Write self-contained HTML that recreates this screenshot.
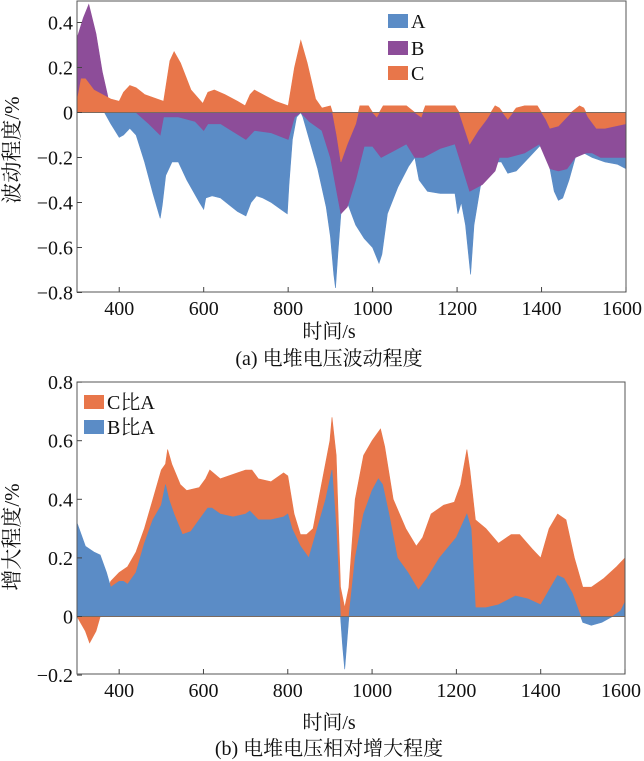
<!DOCTYPE html>
<html><head><meta charset="utf-8"><style>
body{margin:0;background:#fff;}
svg{display:block;font-family:"Liberation Serif","Noto Serif CJK SC",serif;}
</style></head><body>
<svg id="fig" width="644" height="761" viewBox="0 0 644 761"></svg>
<script>
const xTicks=[400,600,800,1000,1200,1400,1600];
const yTicksA=[0.4,0.2,0,-0.2,-0.4,-0.6,-0.8];
const yTickLabelsA=["0.4","0.2","0","\u22120.2","\u22120.4","\u22120.6","\u22120.8"];
const yTicksB=[0.8,0.6,0.4,0.2,0,-0.2];
const yTickLabelsB=["0.8","0.6","0.4","0.2","0","\u22120.2"];
const seriesA=[[300,0],[365,0],[380,-0.05],[400,-0.11],[410,-0.1],[425,-0.07],[440,-0.1],[460,-0.22],[480,-0.36],[497,-0.47],[502,-0.41],[510,-0.28],[525,-0.22],[540,-0.22],[560,-0.3],[590,-0.4],[600,-0.43],[605,-0.38],[620,-0.37],[640,-0.38],[660,-0.41],[680,-0.44],[700,-0.46],[712,-0.4],[725,-0.37],[740,-0.38],[760,-0.4],[790,-0.44],[798,-0.45],[802,-0.32],[810,-0.12],[820,-0.02],[830,0],[835,-0.02],[850,-0.12],[870,-0.25],[890,-0.42],[900,-0.55],[908,-0.72],[912,-0.78],[918,-0.62],[925,-0.45],[940,-0.4],[960,-0.5],[980,-0.56],[1000,-0.6],[1015,-0.67],[1022,-0.63],[1035,-0.45],[1060,-0.33],[1085,-0.24],[1100,-0.2],[1110,-0.3],[1130,-0.35],[1160,-0.36],[1195,-0.36],[1202,-0.45],[1210,-0.4],[1220,-0.5],[1232,-0.72],[1240,-0.5],[1255,-0.33],[1275,-0.25],[1290,-0.22],[1305,-0.22],[1320,-0.27],[1340,-0.26],[1370,-0.2],[1395,-0.15],[1405,-0.14],[1415,-0.2],[1430,-0.35],[1440,-0.39],[1450,-0.38],[1465,-0.3],[1480,-0.2],[1500,-0.18],[1520,-0.2],[1550,-0.22],[1580,-0.23],[1600,-0.25]];
const seriesB=[[300,0.33],[315,0.42],[328,0.48],[345,0.35],[360,0.18],[372,0.08],[380,0],[440,0],[470,-0.05],[497,-0.1],[505,-0.02],[540,-0.02],[580,-0.04],[600,-0.08],[610,-0.05],[640,-0.05],[700,-0.12],[720,-0.08],[760,-0.09],[800,-0.12],[815,-0.02],[830,0],[850,-0.04],[880,-0.08],[900,-0.2],[915,-0.35],[925,-0.45],[940,-0.42],[960,-0.3],[980,-0.15],[1000,-0.15],[1020,-0.2],[1050,-0.17],[1080,-0.14],[1100,-0.2],[1120,-0.2],[1160,-0.16],[1195,-0.14],[1205,-0.2],[1230,-0.35],[1260,-0.32],[1290,-0.26],[1300,-0.2],[1320,-0.2],[1360,-0.18],[1395,-0.14],[1420,-0.25],[1440,-0.26],[1460,-0.25],[1480,-0.2],[1505,-0.18],[1520,-0.18],[1540,-0.2],[1570,-0.2],[1600,-0.2]];
const seriesC=[[300,0.05],[310,0.15],[320,0.15],[340,0.1],[360,0.08],[380,0.06],[400,0.05],[410,0.09],[425,0.12],[440,0.11],[460,0.08],[490,0.06],[505,0.05],[520,0.23],[530,0.27],[545,0.22],[570,0.1],[598,0.04],[610,0.09],[625,0.1],[650,0.08],[680,0.05],[698,0.03],[710,0.08],[720,0.1],[740,0.08],[770,0.05],[800,0.03],[815,0.2],[830,0.32],[845,0.22],[865,0.06],[880,0.02],[900,0.03],[905,0],[915,-0.1],[925,-0.22],[940,-0.14],[960,-0.05],[970,0.03],[990,0.03],[1000,0],[1010,-0.02],[1025,0.03],[1080,0.03],[1100,0],[1115,-0.02],[1125,0.03],[1195,0.03],[1205,0],[1230,-0.14],[1250,-0.08],[1270,-0.03],[1290,0.03],[1300,0.02],[1320,-0.03],[1340,0.02],[1360,0.03],[1390,0.03],[1400,0],[1410,-0.03],[1420,-0.07],[1440,-0.06],[1470,0],[1490,0.03],[1500,0.02],[1510,-0.02],[1530,-0.07],[1550,-0.07],[1600,-0.05]];
const seriesBA=[[300,0.32],[310,0.28],[320,0.24],[340,0.22],[355,0.21],[370,0.15],[380,0.1],[390,0.11],[400,0.12],[410,0.12],[420,0.11],[440,0.15],[460,0.25],[480,0.33],[500,0.38],[510,0.45],[518,0.4],[530,0.35],[550,0.28],[570,0.29],[590,0.33],[610,0.37],[620,0.37],[640,0.35],[670,0.34],[700,0.35],[710,0.36],[730,0.33],[760,0.33],[790,0.34],[800,0.35],[810,0.3],[830,0.24],[850,0.2],[870,0.3],[890,0.4],[905,0.5],[915,0.3],[925,0],[930,-0.1],[935,-0.18],[945,0],[960,0.2],[980,0.35],[1000,0.43],[1015,0.47],[1025,0.45],[1040,0.35],[1060,0.2],[1085,0.15],[1110,0.09],[1130,0.13],[1160,0.2],[1200,0.27],[1225,0.35],[1235,0.3],[1245,0.03],[1270,0.03],[1300,0.04],[1340,0.07],[1370,0.06],[1400,0.04],[1420,0.09],[1440,0.14],[1455,0.13],[1475,0.08],[1490,0.02],[1500,-0.02],[1520,-0.03],[1545,-0.02],[1570,0],[1590,0.02],[1600,0.05]];
const seriesCA=[[300,0],[320,-0.05],[330,-0.09],[345,-0.05],[355,0],[380,0.12],[400,0.15],[420,0.17],[440,0.22],[460,0.3],[480,0.4],[500,0.5],[510,0.52],[515,0.57],[525,0.52],[545,0.45],[560,0.43],[590,0.44],[605,0.47],[615,0.5],[640,0.47],[680,0.49],[700,0.5],[715,0.5],[730,0.47],[760,0.46],[790,0.49],[800,0.48],[815,0.35],[830,0.28],[845,0.28],[860,0.3],[880,0.45],[900,0.6],[905,0.68],[915,0.55],[925,0.1],[935,0.03],[945,0.1],[960,0.4],[980,0.55],[1000,0.6],[1010,0.62],[1020,0.64],[1030,0.58],[1050,0.4],[1080,0.3],[1105,0.24],[1120,0.27],[1140,0.35],[1170,0.38],[1195,0.39],[1210,0.45],[1225,0.57],[1232,0.5],[1245,0.33],[1270,0.3],[1300,0.25],[1330,0.28],[1350,0.28],[1380,0.23],[1400,0.2],[1420,0.3],[1440,0.35],[1460,0.33],[1480,0.2],[1500,0.1],[1520,0.1],[1550,0.13],[1580,0.17],[1600,0.2]];

const NS="http://www.w3.org/2000/svg";
const svg=document.getElementById('fig');
function mk(tag,attrs,parent){const e=document.createElementNS(NS,tag);for(const k in attrs)e.setAttribute(k,attrs[k]);(parent||svg).appendChild(e);return e;}
const BLUE="#5b8cc6",PURPLE="#8d4d99",ORANGE="#e8764a";

function panel(cfg){
  const g=mk('g',{});
  
  
  const sx=v=>cfg.left+(v-300)/1300*(cfg.right-cfg.left);
  const sy=v=>cfg.y0-(v)/0.2*cfg.per;
  cfg.series.forEach(s=>{
    let d='M'+sx(s.data[0][0])+','+sy(0);
    s.data.forEach(p=>{d+=' L'+sx(p[0]).toFixed(1)+','+sy(p[1]).toFixed(1);});
    d+=' L'+sx(s.data[s.data.length-1][0])+','+sy(0)+' Z';
    const p=mk('path',{d:d,fill:s.color,stroke:s.color,'stroke-width':0.6},g);
    
    
  });
  mk('line',{x1:cfg.left,x2:cfg.right,y1:sy(0),y2:sy(0),stroke:'#7a6a60','stroke-width':1},g);
  const fr=mk('rect',{x:cfg.left,y:cfg.top,width:cfg.right-cfg.left,height:cfg.bottom-cfg.top,fill:'none',stroke:'#555','stroke-width':1},g);
  
  
  xTicks.forEach(t=>{
    const x=sx(t);
    mk('line',{x1:x,x2:x,y1:cfg.bottom,y2:cfg.bottom-5,stroke:'#444'},g);
    const tx=mk('text',{x:t==1600?x-4:x,y:cfg.bottom+23,'font-size':20,'text-anchor':'middle',fill:'#111'},g);
    tx.textContent=t;
    
    
  });
  cfg.yt.forEach((t,i)=>{
    const y=sy(t);
    mk('line',{x1:cfg.left,x2:cfg.left+5,y1:y,y2:y,stroke:'#444'},g);
    const tx=mk('text',{x:cfg.left-4,y:y+7,'font-size':20,'text-anchor':'end',fill:'#111'},g);
    tx.textContent=cfg.ytl[i];
    
    
  });
  const xt=mk('text',{x:329,y:cfg.xtitleY,'font-size':20,'text-anchor':'middle',fill:'#111'},g);
  xt.textContent='时间/s';
  
  
  const cap=mk('text',{x:329,y:cfg.capY,'font-size':20,'text-anchor':'middle',fill:'#111'},g);
  cap.textContent=cfg.caption;
  
  
  const yt=mk('text',{x:0,y:0,'font-size':21,'text-anchor':'middle',fill:'#111',transform:'translate(19,'+cfg.ytitleY+') rotate(-90)'},g);
  yt.textContent=cfg.ytitle;
  
  
  cfg.legend.forEach(l=>{
    const r=mk('rect',{x:l.x,y:l.y-7,width:20,height:14,fill:l.color},g);
    
    
    const t=mk('text',{x:l.x+23,y:l.y+7,'font-size':20,fill:'#111'},g);
    t.textContent=l.label;
    
    
  });
}
panel({name:'chart-a',left:77,right:626,top:1,bottom:292,y0:112.5,per:45,
  series:[{id:'area-A',data:seriesA,color:BLUE},{id:'area-B',data:seriesB,color:PURPLE},{id:'area-C',data:seriesC,color:ORANGE}],
  yt:yTicksA,ytl:yTickLabelsA,xtitleY:338,capY:365,caption:'(a) 电堆电压波动程度',ytitle:'波动程度/%',ytitleY:150,
  legend:[{x:388,y:21,color:BLUE,label:'A'},{x:388,y:48,color:PURPLE,label:'B'},{x:388,y:73,color:ORANGE,label:'C'}]});
panel({name:'chart-b',left:77,right:625,top:382,bottom:674,y0:616.5,per:58.6,
  series:[{id:'area-C-vs-A',data:seriesCA,color:ORANGE},{id:'area-B-vs-A',data:seriesBA,color:BLUE}],
  yt:yTicksB,ytl:yTickLabelsB,xtitleY:729,capY:755,caption:'(b) 电堆电压相对增大程度',ytitle:'增大程度/%',ytitleY:537,
  legend:[{x:84,y:402,color:ORANGE,label:'C比A'},{x:84,y:427,color:BLUE,label:'B比A'}]});
</script>
</body></html>
